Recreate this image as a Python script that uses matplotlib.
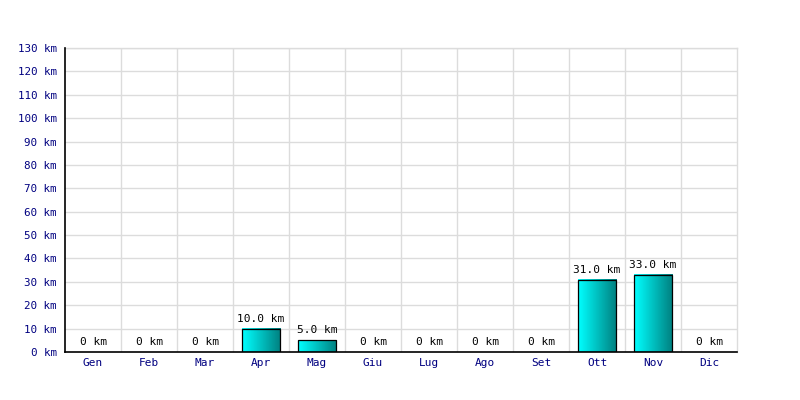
import numpy as np
import matplotlib
matplotlib.use("Agg")
import matplotlib.pyplot as plt
from matplotlib.colors import LinearSegmentedColormap

# ── dati ──────────────────────────────────────────────
MESI   = ["Gen", "Feb", "Mar", "Apr", "Mag", "Giu",
          "Lug", "Ago", "Set", "Ott", "Nov", "Dic"]
KM     = [0, 0, 0, 10.0, 5.0, 0, 0, 0, 0, 31.0, 33.0, 0]
Y_TICKS = list(range(0, 131, 10))

plt.rcParams["font.family"] = ["DejaVu Sans Mono"]

fig = plt.figure(figsize=(8, 4), dpi=100)
ax = fig.add_axes([65 / 800, 48 / 400, 672 / 800, 304 / 400])

cmap = LinearSegmentedColormap.from_list("bar", ["#00ffff", "#008080"])
grad = np.linspace(0, 1, 64).reshape(1, -1)

W = 0.68
x = np.arange(len(MESI))
for xi, v in zip(x, KM):
    if v > 0:
        ax.imshow(grad, extent=[xi - W / 2, xi + W / 2, 0, v],
                  aspect="auto", cmap=cmap, zorder=2, interpolation="bilinear")
        ax.bar(xi, v, width=W, facecolor="none", edgecolor="black",
               linewidth=0.9, zorder=3)
    lab = f"{v:.1f} km" if v > 0 else "0 km"
    ax.annotate(lab, (xi, v), xytext=(0, 3.5), textcoords="offset points",
                ha="center", va="bottom", fontsize=8, color="black", zorder=4)

ax.set_xlim(-0.5, len(MESI) - 0.5)
ax.set_ylim(0, 130)

ax.set_yticks(Y_TICKS)
ax.set_yticklabels([f"{t} km" for t in Y_TICKS], fontsize=7.8, color="#000080")
ax.set_xticks(x)
ax.set_xticklabels(MESI, fontsize=8, color="#000080")
ax.tick_params(axis="both", length=0)
ax.tick_params(axis="y", pad=6)
ax.tick_params(axis="x", pad=4)

# griglia
for t in Y_TICKS[1:]:
    ax.axhline(t, color="#dcdcdc", linewidth=1, zorder=0)
for b in np.arange(0.5, len(MESI) - 0.5, 1):
    ax.axvline(b, color="#dcdcdc", linewidth=1, zorder=0)

for s in ["top", "right"]:
    ax.spines[s].set_color("#dcdcdc")
    ax.spines[s].set_linewidth(1)
for s in ["left", "bottom"]:
    ax.spines[s].set_color("black")
    ax.spines[s].set_linewidth(1.2)
    ax.spines[s].set_zorder(5)

fig.savefig("out.png", dpi=100)
